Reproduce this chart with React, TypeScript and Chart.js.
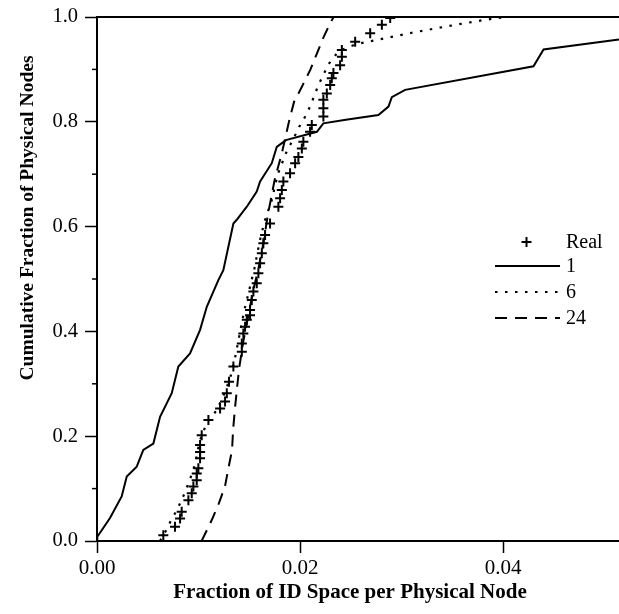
import { useEffect, useRef } from "react";
import { Chart, registerables } from "chart.js";

Chart.register(...registerables);

const FONT = '"Liberation Serif", "Times New Roman", serif';

const X_TITLE = "Fraction of ID Space per Physical Node";
const Y_TITLE = "Cumulative Fraction of Physical Nodes";

const X_MIN = 0;
const X_MAX = 0.0514;
const X_TICKS = [0, 0.02, 0.04];
const Y_TICKS = [0, 0.1, 0.2, 0.3, 0.4, 0.5, 0.6, 0.7, 0.8, 0.9, 1.0];
const Y_MINOR = [0.1, 0.3, 0.5, 0.7, 0.9];

const LEGEND_LABELS = ["Real", "1", "6", "24"];

// "Real" measured distribution (crosses)
const REAL_X = [
  0.00653, 0.00768, 0.00818, 0.00834, 0.009, 0.00933, 0.00949, 0.00982, 0.00982, 0.00998,
  0.01015, 0.01015, 0.01015, 0.01031, 0.01097, 0.01212, 0.01261, 0.01278, 0.013, 0.01343,
  0.01426, 0.01426, 0.01441, 0.01458, 0.01475, 0.01507, 0.01507, 0.01524, 0.0154, 0.01573,
  0.01589, 0.01606, 0.01623, 0.01638, 0.01655, 0.01704, 0.01786, 0.01803, 0.0182, 0.01835,
  0.01901, 0.01951, 0.01983, 0.02017, 0.02032, 0.02098, 0.02115, 0.02229, 0.02229, 0.02229,
  0.02263, 0.02296, 0.02312, 0.02328, 0.02394, 0.02411, 0.02411, 0.02542, 0.0269, 0.02805,
  0.02887,
];
const REAL_Y = [
  0.011, 0.027, 0.043, 0.056, 0.078, 0.091, 0.104, 0.116, 0.129, 0.139,
  0.158, 0.17, 0.183, 0.202, 0.231, 0.253, 0.266, 0.282, 0.304, 0.333,
  0.361, 0.377, 0.396, 0.409, 0.422, 0.431, 0.441, 0.46, 0.476, 0.492,
  0.511, 0.53, 0.549, 0.568, 0.584, 0.606, 0.638, 0.654, 0.67, 0.686,
  0.702, 0.721, 0.733, 0.749, 0.762, 0.781, 0.794, 0.81, 0.826, 0.842,
  0.854, 0.87, 0.883, 0.893, 0.908, 0.924, 0.937, 0.953, 0.969, 0.985,
  0.998,
];

// 1 virtual node per physical node (solid)
const S1_X = [
  0, 0.00003, 0.00128, 0.00243, 0.00293, 0.00391, 0.00456, 0.00555, 0.00621, 0.00736,
  0.00801, 0.00916, 0.01015, 0.01081, 0.01195, 0.01244, 0.01343, 0.01376, 0.01475, 0.01573,
  0.01606, 0.01721, 0.0177, 0.0186, 0.02165, 0.02229, 0.0245, 0.02771, 0.0287, 0.02903,
  0.03034, 0.04298, 0.04397, 0.0514,
];
const S1_Y = [
  0, 0.008, 0.044, 0.085, 0.123, 0.142, 0.174, 0.186, 0.237, 0.282,
  0.333, 0.358, 0.403, 0.447, 0.498, 0.517, 0.606, 0.613, 0.638, 0.667,
  0.686, 0.721, 0.752, 0.765, 0.781, 0.797, 0.804, 0.813, 0.829, 0.847,
  0.861, 0.906, 0.938, 0.957,
];

// 6 virtual nodes (dotted)
const S6_X = [
  0.0062, 0.0068, 0.0073, 0.0079, 0.0086, 0.0092, 0.0097, 0.0101, 0.0108, 0.0118,
  0.0125, 0.0131, 0.0136, 0.0141, 0.0145, 0.015, 0.0155, 0.016, 0.0165, 0.0172,
  0.0178, 0.0186, 0.0194, 0.0199, 0.0205, 0.021, 0.0218, 0.0228, 0.0238, 0.0255,
  0.0275, 0.031, 0.035, 0.038, 0.0402,
];
const S6_Y = [
  0, 0.02, 0.04, 0.06, 0.09, 0.12, 0.15, 0.19, 0.225, 0.25,
  0.28, 0.31, 0.35, 0.4, 0.44, 0.48, 0.52, 0.57, 0.61, 0.65,
  0.7, 0.74, 0.77, 0.79, 0.81, 0.83, 0.87, 0.91, 0.935, 0.948,
  0.956, 0.97, 0.984, 0.994, 1.0,
];

// 24 virtual nodes (dashed)
const S24_X = [
  0.0103, 0.0113, 0.012, 0.0126, 0.0129, 0.0133, 0.0134, 0.0136, 0.0138, 0.014,
  0.0144, 0.0149, 0.0154, 0.0159, 0.0164, 0.0168, 0.0172, 0.0175, 0.0182, 0.0189,
  0.0194, 0.0201, 0.021, 0.0223, 0.023, 0.0233,
];
const S24_Y = [
  0, 0.04, 0.072, 0.104, 0.135, 0.174, 0.212, 0.256, 0.294, 0.33,
  0.38, 0.43, 0.48, 0.52, 0.57, 0.62, 0.66, 0.69, 0.74, 0.8,
  0.838, 0.864, 0.899, 0.961, 0.99, 1.0,
];

const DOTTED = [2.5, 7.5];
const DASHED = [12, 8];

const pts = (xs: number[], ys: number[]) => xs.map((x, i) => ({ x, y: ys[i] }));

const framePlugin = {
  id: "frameAndLegend",
  afterDraw(chart: any) {
    const { ctx, chartArea: a, scales } = chart;
    const ys = scales.y;
    ctx.save();
    ctx.strokeStyle = "#000";
    ctx.fillStyle = "#000";
    // top frame line
    ctx.lineWidth = 2;
    ctx.beginPath();
    ctx.moveTo(a.left - 1, a.top);
    ctx.lineTo(a.right, a.top);
    ctx.stroke();
    // minor y ticks
    ctx.lineWidth = 1.5;
    for (const v of Y_MINOR) {
      const y = ys.getPixelForValue(v);
      ctx.beginPath();
      ctx.moveTo(a.left - 5, y);
      ctx.lineTo(a.left, y);
      ctx.stroke();
    }
    // axis titles
    ctx.textAlign = "center";
    ctx.textBaseline = "alphabetic";
    ctx.font = `bold 21px ${FONT}`;
    ctx.fillText(X_TITLE, 350, 598);
    ctx.save();
    ctx.translate(33, 218);
    ctx.rotate(-Math.PI / 2);
    ctx.font = `bold 19.5px ${FONT}`;
    ctx.fillText(Y_TITLE, 0, 0);
    ctx.restore();
    // legend
    const rows = [242, 266, 292, 318];
    const x0 = 495;
    const x1 = 560;
    ctx.font = `20px ${FONT}`;
    ctx.textAlign = "left";
    ctx.textBaseline = "middle";
    chart.data.datasets.forEach((ds: any, i: number) => {
      const y = rows[i];
      ctx.save();
      ctx.lineWidth = 2;
      if (ds.showLine === false) {
        const cx = (x0 + x1) / 2 - 1;
        ctx.beginPath();
        ctx.moveTo(cx - 5, y);
        ctx.lineTo(cx + 5, y);
        ctx.moveTo(cx, y - 5);
        ctx.lineTo(cx, y + 5);
        ctx.stroke();
      } else {
        ctx.setLineDash(ds.borderDash || []);
        ctx.beginPath();
        ctx.moveTo(x0, y);
        ctx.lineTo(x1, y);
        ctx.stroke();
      }
      ctx.restore();
      ctx.fillText(ds.label, 566, y + 1);
    });
    ctx.restore();
  },
};

export default function App() {
  const ref = useRef<HTMLCanvasElement>(null);

  useEffect(() => {
    document.body.style.margin = "0";
    const canvas = ref.current!;
    const chart = new Chart(canvas, {
      type: "scatter",
      data: {
        datasets: [
          {
            label: LEGEND_LABELS[0],
            data: pts(REAL_X, REAL_Y),
            showLine: false,
            pointStyle: "cross",
            pointRadius: 5,
            pointBorderWidth: 2,
            borderColor: "#000",
            backgroundColor: "#000",
          },
          {
            label: LEGEND_LABELS[1],
            data: pts(S1_X, S1_Y),
            showLine: true,
            borderColor: "#000",
            borderWidth: 2,
            pointRadius: 0,
            tension: 0,
          },
          {
            label: LEGEND_LABELS[2],
            data: pts(S6_X, S6_Y),
            showLine: true,
            borderColor: "#000",
            borderWidth: 2.2,
            borderDash: DOTTED,
            pointRadius: 0,
            tension: 0,
          },
          {
            label: LEGEND_LABELS[3],
            data: pts(S24_X, S24_Y),
            showLine: true,
            borderColor: "#000",
            borderWidth: 2,
            borderDash: DASHED,
            pointRadius: 0,
            tension: 0,
          },
        ],
      },
      options: {
        responsive: false,
        animation: false,
        layout: { autoPadding: false, padding: { top: 17, left: 0, right: 0, bottom: 0 } },
        plugins: { legend: { display: false }, tooltip: { enabled: false } },
        scales: {
          x: {
            type: "linear",
            min: X_MIN,
            max: X_MAX,
            afterBuildTicks: (s: any) => {
              s.ticks = X_TICKS.map((v) => ({ value: v }));
            },
            afterFit: (s: any) => {
              s.height = 73;
              s.paddingLeft = 0;
              s.paddingRight = 0;
            },
            ticks: {
              callback: (v: any) => Number(v).toFixed(2),
              font: { family: FONT, size: 21 },
              color: "#000",
              padding: 3,
              maxRotation: 0,
              autoSkip: false,
            },
            grid: {
              drawOnChartArea: false,
              drawTicks: true,
              tickLength: 12,
              tickWidth: 1.5,
              tickColor: "#000",
            },
            border: { color: "#000", width: 2 },
          },
          y: {
            type: "linear",
            min: 0,
            max: 1,
            afterBuildTicks: (s: any) => {
              s.ticks = Y_TICKS.map((v) => ({ value: v }));
            },
            afterFit: (s: any) => {
              s.width = 97;
              s.paddingTop = 0;
              s.paddingBottom = 0;
            },
            ticks: {
              callback: (v: any, i: number) => (i % 2 === 0 ? Number(v).toFixed(1) : ""),
              font: { family: FONT, size: 20.5 },
              color: "#000",
              padding: 7,
              autoSkip: false,
            },
            grid: {
              drawOnChartArea: false,
              drawTicks: true,
              tickLength: 12,
              tickWidth: 1.5,
              tickColor: (c: any) => (c.index % 2 === 0 ? "#000" : "rgba(0,0,0,0)"),
            },
            border: { color: "#000", width: 2 },
          },
        },
      },
      plugins: [framePlugin],
    });
    return () => chart.destroy();
  }, []);

  return (
    <div style={{ position: "absolute", left: 0, top: 0, width: 619, height: 614, background: "#fff" }}>
      <canvas ref={ref} width={619} height={614} style={{ display: "block" }} />
    </div>
  );
}
